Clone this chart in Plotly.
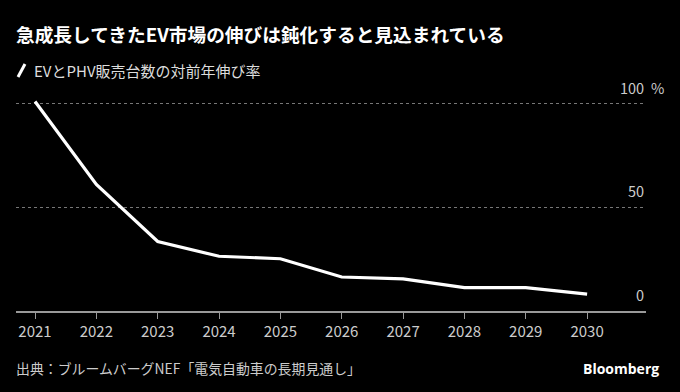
import plotly.graph_objects as go

years = [2021, 2022, 2023, 2024, 2025, 2026, 2027, 2028, 2029, 2030]
growth = [101, 61, 33.5, 26.4, 25.2, 16.4, 15.5, 11.3, 11.3, 8.1]
y_ticks = [0, 50, 100]

title = "急成長してきたEV市場の伸びは鈍化すると見込まれている"
legend_label = "EVとPHV販売台数の対前年伸び率"
source = "出典：ブルームバーグNEF「電気自動車の長期見通し」"

FONT = "Noto Sans CJK JP"

W, H = 680, 392
ml, mr, mt, mb = 16, 34, 94, 81

fig = go.Figure()
fig.add_trace(go.Scatter(x=years, y=growth, mode="lines",
                         line=dict(color="white", width=3.2),
                         showlegend=False, hoverinfo="skip"))

annotations = []
for v in y_ticks:
    annotations.append(dict(x=1, xref="paper", y=v, yref="y", text=str(v),
                            xanchor="right", yanchor="bottom", yshift=4,
                            showarrow=False,
                            font=dict(family=FONT, size=14.5, color="#cccccc")))
annotations.append(dict(x=1, xref="paper", y=100, yref="y", text="%",
                        xanchor="left", yanchor="bottom", xshift=3, yshift=4,
                        showarrow=False,
                        font=dict(family=FONT, size=14.5, color="#cccccc")))

pw = W - ml - mr
ph = H - mt - mb
def px(x):
    return (x - ml) / pw
def py(y):
    return (H - mb - y) / ph

annotations += [
    dict(x=px(14), y=py(33), xref="paper", yref="paper", text="<b>" + title + "</b>",
         xanchor="left", yanchor="middle", showarrow=False,
         font=dict(family=FONT, size=18.7, color="white")),
    dict(x=px(32), y=py(70), xref="paper", yref="paper", text=legend_label,
         xanchor="left", yanchor="middle", showarrow=False,
         font=dict(family=FONT, size=15, color="#dddddd")),
    dict(x=px(14), y=py(368), xref="paper", yref="paper", text=source,
         xanchor="left", yanchor="middle", showarrow=False,
         font=dict(family=FONT, size=13.9, color="#cccccc")),
    dict(x=px(661), y=py(368), xref="paper", yref="paper", text="<b>Bloomberg</b>",
         xanchor="right", yanchor="middle", showarrow=False,
         font=dict(family="Open Sans", size=14, color="white")),
]

shapes = [dict(type="line", xref="paper", yref="paper",
               x0=px(18), y0=py(77), x1=px(25), y1=py(64),
               line=dict(color="white", width=3))]

fig.update_layout(
    width=W, height=H,
    margin=dict(l=ml, r=mr, t=mt, b=mb),
    paper_bgcolor="black", plot_bgcolor="black",
    annotations=annotations, shapes=shapes,
    xaxis=dict(range=[2020.69, 2030.96], tickvals=years,
               ticks="outside", ticklen=6, tickcolor="#999999",
               showline=True, linecolor="#999999", linewidth=1.5,
               showgrid=False, zeroline=False,
               tickfont=dict(family=FONT, size=15, color="#cccccc")),
    yaxis=dict(range=[0, ph / 2.074], tickvals=y_ticks, showticklabels=False,
               showgrid=True, gridcolor="#777777", griddash="dot", gridwidth=1,
               zeroline=False),
)

fig.write_html("out.html", config={"displayModeBar": False},
               post_script="document.body.style.margin='0';document.body.style.background='black';")
